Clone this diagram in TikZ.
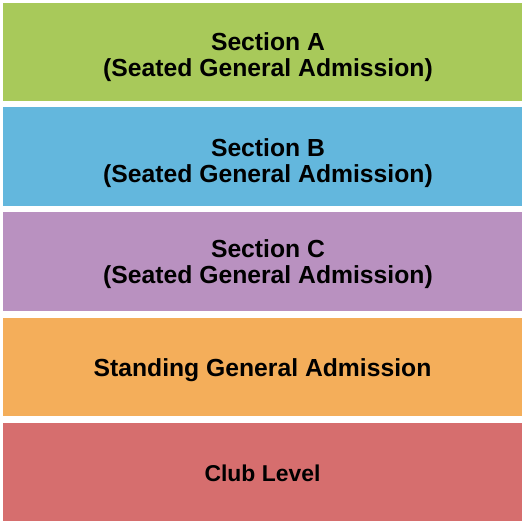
\documentclass[tikz,border=0pt]{standalone}
\usepackage{fontspec}
\setmainfont{Liberation Sans}
\definecolor{secA}{RGB}{168,201,90}
\definecolor{secB}{RGB}{99,183,221}
\definecolor{secC}{RGB}{185,145,192}
\definecolor{standing}{RGB}{244,174,90}
\definecolor{club}{RGB}{214,110,110}
\begin{document}
\begin{tikzpicture}[x=1bp,y=-1bp,
  lbl/.style={font=\bfseries\fontsize{24.8}{26.5}\selectfont,align=center,inner sep=0pt}]
\useasboundingbox (0,0) rectangle (525,525);
\fill[secA] (3,3) rectangle (522,101);
\fill[secB] (3,107) rectangle (522,206);
\fill[secC] (3,212) rectangle (522,311);
\fill[standing] (3,318) rectangle (522,416);
\fill[club] (3,423) rectangle (522,521);
\node[lbl] (a) at (268,57) {Section A\\(Seated General Admission)};
\node[lbl] (b) at (268,163) {Section B\\(Seated General Admission)};
\node[lbl] (c) at (268,264) {Section C\\(Seated General Admission)};
\node[lbl] (sga) at (262.5,370.5) {Standing General Admission};
\node[lbl,font=\bfseries\fontsize{23}{25}\selectfont] (cl) at (262.5,473.5) {Club Level};
\end{tikzpicture}
\end{document}
